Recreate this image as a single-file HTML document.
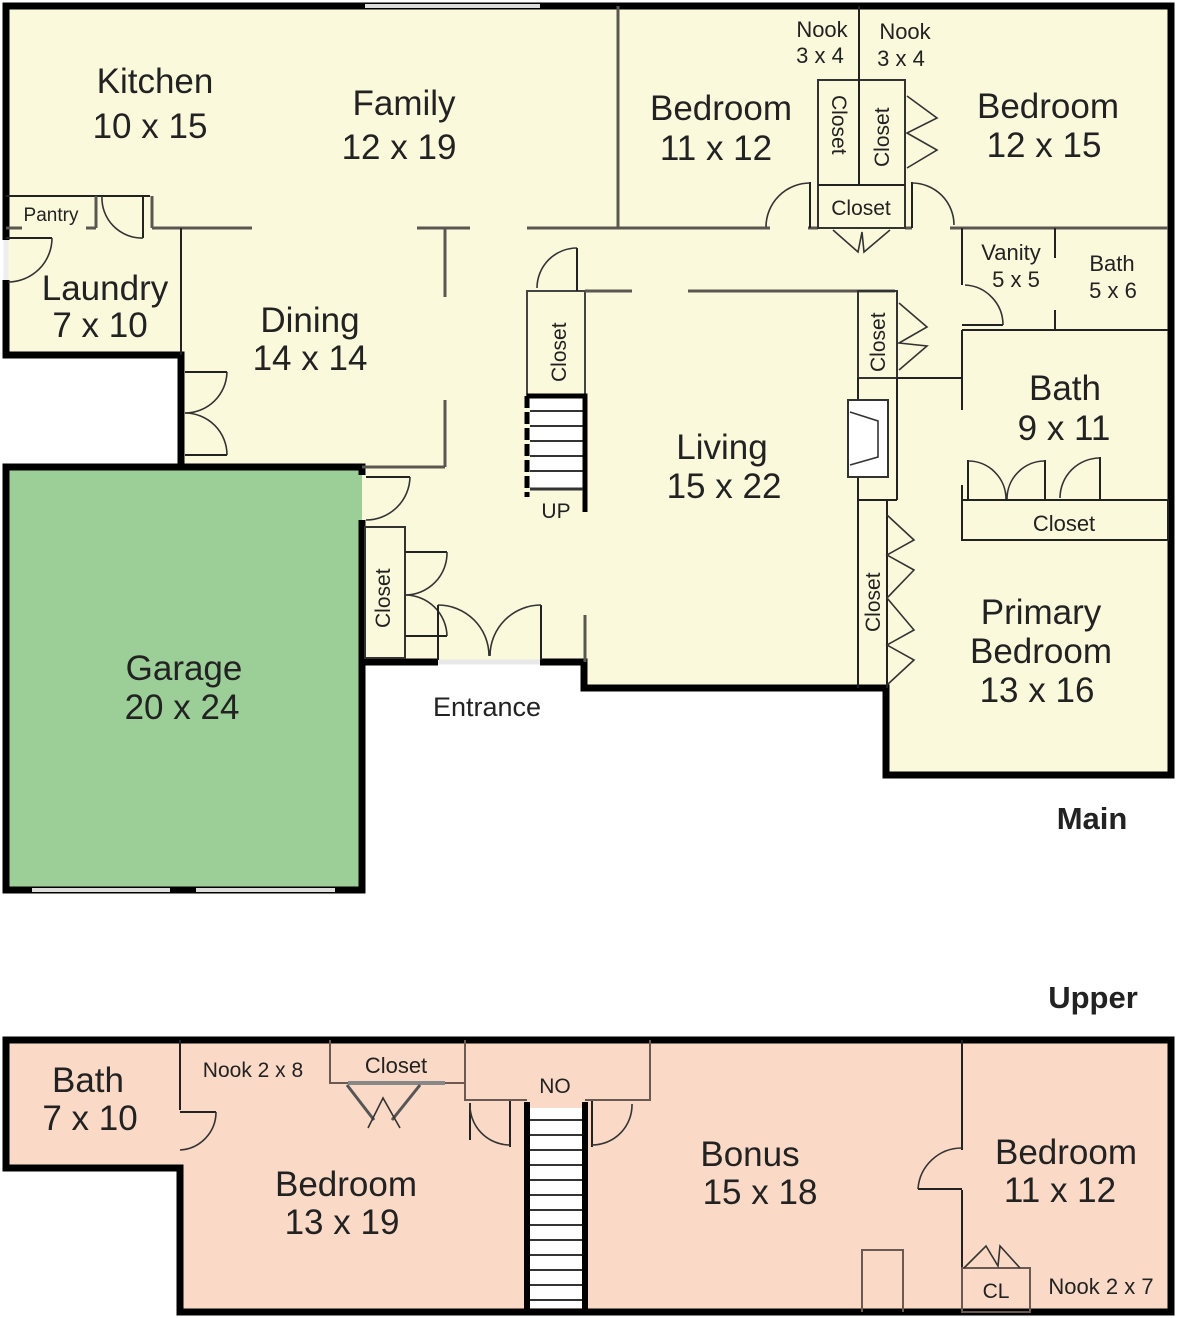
<!DOCTYPE html>
<html><head><meta charset="utf-8"><style>
html,body{margin:0;padding:0;background:#fff;}
svg{display:block;}
text{font-family:"Liberation Sans",Arial,sans-serif;fill:#222;}
.r{font-size:35px;text-anchor:middle;}
.s{font-size:22px;text-anchor:middle;}
.w{stroke:#5a5750;stroke-width:3;fill:none;}
.t{stroke:#222;stroke-width:2;fill:none;}
.k{stroke:#000;stroke-width:7;fill:none;stroke-linejoin:miter;}
.d{stroke:#333;stroke-width:1.6;fill:none;}
</style></head><body>
<svg width="1178" height="1318" viewBox="0 0 1178 1318" xmlns="http://www.w3.org/2000/svg">
<!-- MAIN -->
<polygon points="6,6 1171,6 1171,775 886,775 886,688 584,688 584,662 362,662 362,467 181,467 181,355 6,355" fill="#fbf9dc"/>
<rect x="6" y="470" width="356" height="420" fill="#9ccf98"/>
<polyline class="k" points="6,240 6,6 1171,6 1171,775 886,775 886,688 584,688 584,662 540,662"/>
<polyline class="k" points="438,662 362,662 362,520"/>
<polyline class="k" points="6,280 6,355 181,355 181,467 362,467 362,475"/>
<polyline class="k" points="362,520 362,890 6,890 6,467 181,467"/>
<!-- windows -->
<line x1="365" y1="6" x2="540" y2="6" stroke="#ddd" stroke-width="4"/>
<line x1="32" y1="890" x2="170" y2="890" stroke="#ddd" stroke-width="4"/>
<line x1="196" y1="890" x2="335" y2="890" stroke="#ddd" stroke-width="4"/>
<line x1="438" y1="662" x2="540" y2="662" stroke="#e8e8e8" stroke-width="5"/>
<line x1="6" y1="240" x2="6" y2="280" stroke="#eee" stroke-width="5"/>

<!-- interior walls -->
<line class="w" x1="618" y1="6" x2="618" y2="228"/>
<line class="w" x1="152" y1="228" x2="252" y2="228"/>
<line class="w" x1="417" y1="228" x2="470" y2="228"/>
<line class="w" x1="527" y1="228" x2="770" y2="228"/>
<line class="w" x1="950" y1="228" x2="1168" y2="228"/>
<line class="w" x1="808" y1="228" x2="818" y2="228"/>
<line class="w" x1="905" y1="228" x2="912" y2="228"/>
<!-- pantry -->
<line class="t" x1="6" y1="196" x2="150" y2="196"/>
<line class="w" x1="6" y1="228" x2="22" y2="228"/>
<line class="w" x1="86" y1="228" x2="96" y2="228"/>
<line class="w" x1="96" y1="196" x2="96" y2="228"/>
<line class="t" x1="143" y1="196" x2="143" y2="238" stroke-width="4"/>
<line class="w" x1="152" y1="196" x2="152" y2="228"/>
<path class="d" d="M102,196 A40,40 0 0 0 143,238"/>
<line class="t" x1="6" y1="238" x2="52" y2="238" stroke-width="3"/>
<path class="d" d="M52,238 A44,44 0 0 1 8,282"/>
<line class="t" x1="181" y1="228" x2="181" y2="355" stroke-width="1.5"/>
<!-- dining -->
<line class="w" x1="445" y1="228" x2="445" y2="297"/>
<line class="w" x1="445" y1="400" x2="445" y2="467"/>
<line class="w" x1="362" y1="467" x2="445" y2="467"/>
<line class="t" x1="185" y1="372" x2="227" y2="372" stroke-width="3"/>
<path class="d" d="M227,372 A42,42 0 0 1 185,413"/>
<line class="t" x1="185" y1="455" x2="227" y2="455" stroke-width="3"/>
<path class="d" d="M185,413 A42,42 0 0 1 227,455"/>
<!-- garage door to house -->
<line class="t" x1="366" y1="477" x2="410" y2="477" stroke-width="3"/>
<path class="d" d="M410,477 A44,44 0 0 1 366,520"/>
<!-- entry closet -->
<rect x="365" y="527" width="40" height="131" fill="none" stroke="#333" stroke-width="2"/>
<text font-size="21" transform="translate(390,628) rotate(-90)">Closet</text>
<line class="t" x1="405" y1="552" x2="447" y2="552" stroke-width="2"/>
<path class="d" d="M447,552 A42,42 0 0 1 405,595"/>
<line class="t" x1="405" y1="636" x2="447" y2="636" stroke-width="3"/>
<path class="d" d="M405,595 A42,42 0 0 1 447,636"/>
<!-- entrance doors -->
<line class="t" x1="438" y1="605" x2="438" y2="660" stroke-width="3"/>
<line class="t" x1="541" y1="605" x2="541" y2="660" stroke-width="3"/>
<path class="d" d="M438,605 A51,51 0 0 1 489,656"/>
<path class="d" d="M541,605 A51,51 0 0 0 490,656"/>
<line class="w" x1="585" y1="615" x2="585" y2="662"/>
<!-- stair closet -->
<rect x="527" y="291" width="58" height="104" fill="none" stroke="#444" stroke-width="2"/>
<text font-size="21" transform="translate(566,382) rotate(-90)">Closet</text>
<line class="w" x1="585" y1="291" x2="632" y2="291"/>
<line class="w" x1="688" y1="291" x2="895" y2="291"/>
<line class="t" x1="577" y1="248" x2="577" y2="291" stroke-width="3"/>
<path class="d" d="M577,248 A40,40 0 0 0 537,288"/>
<!-- stairs -->
<rect x="530" y="396" width="53" height="93" fill="#fff"/>
<g stroke="#333" stroke-width="2">
<line x1="530" y1="411" x2="583" y2="411"/><line x1="530" y1="426" x2="583" y2="426"/>
<line x1="530" y1="441" x2="583" y2="441"/><line x1="530" y1="456" x2="583" y2="456"/>
<line x1="530" y1="471" x2="583" y2="471"/></g>
<polyline points="527,396 585,396 585,512" fill="none" stroke="#000" stroke-width="5"/>
<line x1="527" y1="396" x2="527" y2="497" stroke="#000" stroke-width="5" stroke-dasharray="12,4"/>
<line x1="530" y1="489" x2="583" y2="489" stroke="#333" stroke-width="3"/>
<text x="556" y="518" font-size="21" text-anchor="middle">UP</text>
<!-- living right: closet, fireplace -->
<rect x="858" y="291" width="39" height="87" fill="none" stroke="#333" stroke-width="2"/>
<text font-size="21" transform="translate(885,372) rotate(-90)">Closet</text>
<polyline class="d" points="899,303 927,327 899,343 927,346 899,370" stroke-width="2.2"/>
<line class="t" x1="858" y1="378" x2="858" y2="688"/>
<line class="t" x1="897" y1="378" x2="897" y2="500"/>
<line class="t" x1="858" y1="500" x2="897" y2="500"/>
<line class="t" x1="897" y1="378" x2="962" y2="378"/>
<rect x="848" y="400" width="40" height="77" fill="#fff" stroke="#333" stroke-width="2"/>
<polyline class="d" points="850,412 878,421 878,457 850,465"/>
<line class="t" x1="887" y1="500" x2="887" y2="688" stroke="#aaa" stroke-width="2"/>
<text font-size="21" transform="translate(880,632) rotate(-90)">Closet</text>
<polyline class="d" points="887,515 914,540 887,555 914,570 887,598 914,630 887,645 914,660 887,685" stroke-width="2.2"/>
<!-- bath areas -->
<line class="t" x1="962" y1="228" x2="962" y2="285"/>
<line class="t" x1="962" y1="330" x2="962" y2="410"/>
<line class="t" x1="962" y1="330" x2="1168" y2="330" stroke-width="3"/>
<line class="t" x1="1055" y1="228" x2="1055" y2="258"/>
<line class="t" x1="1055" y1="310" x2="1055" y2="330"/>
<line class="t" x1="962" y1="325" x2="1003" y2="325" stroke-width="3"/>
<path class="d" d="M965,285 A40,40 0 0 1 1003,325"/>
<rect x="962" y="500" width="206" height="40" fill="none" stroke="#222" stroke-width="2"/>
<line class="t" x1="962" y1="485" x2="962" y2="540"/>
<line class="t" x1="968" y1="460" x2="968" y2="500" stroke-width="3"/>
<line class="t" x1="1045" y1="460" x2="1045" y2="500" stroke-width="3"/>
<line class="t" x1="1100" y1="457" x2="1100" y2="500" stroke-width="3"/>
<path class="d" d="M968,461 A38,38 0 0 1 1006,499"/>
<path class="d" d="M1045,461 A38,38 0 0 0 1007,499"/>
<path class="d" d="M1100,458 A40,40 0 0 0 1060,498"/>
<!-- upper bedroom closets -->
<rect x="818" y="80" width="87" height="148" fill="none" stroke="#333" stroke-width="2"/>
<line class="t" x1="859" y1="6" x2="859" y2="185" stroke-width="1.5"/>
<line class="t" x1="818" y1="185" x2="905" y2="185"/>
<text font-size="21" transform="translate(832,95) rotate(90)">Closet</text>
<text font-size="21" transform="translate(889,167) rotate(-90)">Closet</text>
<text x="861" y="215" font-size="21" text-anchor="middle">Closet</text>
<polyline class="d" points="907,96 937,118 907,133 937,150 907,168" stroke-width="2.2"/>
<polyline class="d" points="833,230 858,252 862,232 864,252 890,230" stroke-width="2.2"/>
<line class="t" x1="810" y1="182" x2="810" y2="228" stroke-width="4"/>
<path class="d" d="M810,183 A44,44 0 0 0 766,227"/>
<line class="t" x1="912" y1="182" x2="912" y2="228" stroke-width="4"/>
<path class="d" d="M912,183 A42,42 0 0 1 954,225"/>
<!-- labels main -->
<text class="r" x="155" y="93">Kitchen</text>
<text class="r" x="150" y="138">10 x 15</text>
<text class="r" x="404" y="115">Family</text>
<text class="r" x="399" y="159">12 x 19</text>
<text class="r" x="721" y="120">Bedroom</text>
<text class="r" x="716" y="160">11 x 12</text>
<text class="r" x="1048" y="118">Bedroom</text>
<text class="r" x="1044" y="157">12 x 15</text>
<text class="s" x="822" y="37">Nook</text>
<text class="s" x="820" y="63">3 x 4</text>
<text class="s" x="905" y="39">Nook</text>
<text class="s" x="901" y="66">3 x 4</text>
<text x="51" y="221" font-size="19" text-anchor="middle">Pantry</text>
<text class="r" x="105" y="300" font-size="30">Laundry</text>
<text class="r" x="100" y="337">7 x 10</text>
<text class="r" x="310" y="332">Dining</text>
<text class="r" x="310" y="370">14 x 14</text>
<text class="r" x="722" y="459">Living</text>
<text class="r" x="724" y="498">15 x 22</text>
<text class="s" x="1011" y="260">Vanity</text>
<text class="s" x="1016" y="287">5 x 5</text>
<text class="s" x="1112" y="271">Bath</text>
<text class="s" x="1113" y="298">5 x 6</text>
<text class="r" x="1065" y="400">Bath</text>
<text class="r" x="1064" y="440">9 x 11</text>
<text x="1064" y="531" font-size="22" text-anchor="middle">Closet</text>
<text class="r" x="1041" y="624">Primary</text>
<text class="r" x="1041" y="663">Bedroom</text>
<text class="r" x="1037" y="702">13 x 16</text>
<text class="r" x="184" y="680">Garage</text>
<text class="r" x="182" y="719">20 x 24</text>
<text x="487" y="716" font-size="27" text-anchor="middle">Entrance</text>
<text x="1092" y="829" font-size="31" font-weight="bold" text-anchor="middle">Main</text>
<text x="1093" y="1008" font-size="31" font-weight="bold" text-anchor="middle">Upper</text>

<!-- UPPER -->
<polygon points="6,1040 1171,1040 1171,1312 180,1312 180,1168 6,1168" fill="#fad9c6"/>
<polygon class="k" points="6,1040 1171,1040 1171,1312 180,1312 180,1168 6,1168"/>
<line class="t" x1="180" y1="1040" x2="180" y2="1110" stroke="#6b5a52"/>
<line class="t" x1="180" y1="1112" x2="216" y2="1112" stroke-width="4"/>
<path class="d" d="M216,1112 A38,38 0 0 1 180,1150"/>
<polyline points="330,1040 330,1083 465,1083 465,1040" fill="none" stroke="#6b5a52" stroke-width="2"/>
<line stroke="#888" stroke-width="4" x1="348" y1="1083" x2="445" y2="1083"/>
<line stroke="#555" stroke-width="3" x1="347" y1="1085" x2="374" y2="1120"/>
<line stroke="#555" stroke-width="3" x1="420" y1="1085" x2="392" y2="1120"/>
<polyline class="d" points="368,1128 383,1098 400,1128"/>
<polyline points="465,1083 465,1100 527,1100" fill="none" stroke="#6b5a52" stroke-width="2"/>
<polyline points="585,1100 650,1100 650,1040" fill="none" stroke="#6b5a52" stroke-width="2"/>
<line class="t" x1="470" y1="1103" x2="470" y2="1140" stroke-width="3" stroke="#aaa"/>
<line class="t" x1="510" y1="1101" x2="510" y2="1147" stroke-width="3"/>
<path class="d" d="M470,1103 A40,40 0 0 0 510,1145"/>
<line class="t" x1="592" y1="1101" x2="592" y2="1147" stroke-width="3"/>
<path class="d" d="M592,1145 A40,40 0 0 0 632,1104"/>
<rect x="530" y="1108" width="53" height="200" fill="#fff"/>
<g stroke="#333" stroke-width="2">
<line x1="530" y1="1120" x2="583" y2="1120"/><line x1="530" y1="1135" x2="583" y2="1135"/>
<line x1="530" y1="1150" x2="583" y2="1150"/><line x1="530" y1="1165" x2="583" y2="1165"/>
<line x1="530" y1="1180" x2="583" y2="1180"/><line x1="530" y1="1195" x2="583" y2="1195"/>
<line x1="530" y1="1210" x2="583" y2="1210"/><line x1="530" y1="1225" x2="583" y2="1225"/>
<line x1="530" y1="1240" x2="583" y2="1240"/><line x1="530" y1="1255" x2="583" y2="1255"/>
<line x1="530" y1="1270" x2="583" y2="1270"/><line x1="530" y1="1285" x2="583" y2="1285"/>
<line x1="530" y1="1300" x2="583" y2="1300"/></g>
<line x1="527" y1="1102" x2="527" y2="1312" stroke="#000" stroke-width="6"/>
<line x1="585" y1="1102" x2="585" y2="1312" stroke="#000" stroke-width="6"/>
<line class="t" x1="962" y1="1040" x2="962" y2="1150" stroke="#6b5a52"/>
<line class="t" x1="962" y1="1190" x2="962" y2="1312" stroke="#6b5a52"/>
<line class="t" x1="918" y1="1189" x2="962" y2="1189" stroke-width="4"/>
<path class="d" d="M962,1148 A44,44 0 0 0 918,1189"/>
<polyline points="862,1312 862,1250 903,1250 903,1312" fill="none" stroke="#6b5a52" stroke-width="2"/>
<rect x="962" y="1268" width="68" height="44" fill="none" stroke="#6b5a52" stroke-width="2"/>
<polyline class="d" points="964,1268 986,1246 998,1266 1000,1246 1020,1268" stroke-width="2"/>
<text class="r" x="88" y="1092" font-size="32">Bath</text>
<text class="r" x="90" y="1130" font-size="32">7 x 10</text>
<text x="253" y="1077" font-size="21" text-anchor="middle">Nook 2 x 8</text>
<text x="396" y="1073" font-size="22" text-anchor="middle">Closet</text>
<text x="555" y="1093" font-size="21" text-anchor="middle">NO</text>
<text class="r" x="346" y="1196">Bedroom</text>
<text class="r" x="342" y="1234">13 x 19</text>
<text class="r" x="750" y="1166">Bonus</text>
<text class="r" x="760" y="1204">15 x 18</text>
<text class="r" x="1066" y="1164">Bedroom</text>
<text class="r" x="1060" y="1202">11 x 12</text>
<text x="996" y="1298" font-size="21" text-anchor="middle">CL</text>
<text x="1101" y="1294" font-size="22" text-anchor="middle">Nook 2 x 7</text>
</svg>
</body></html>
